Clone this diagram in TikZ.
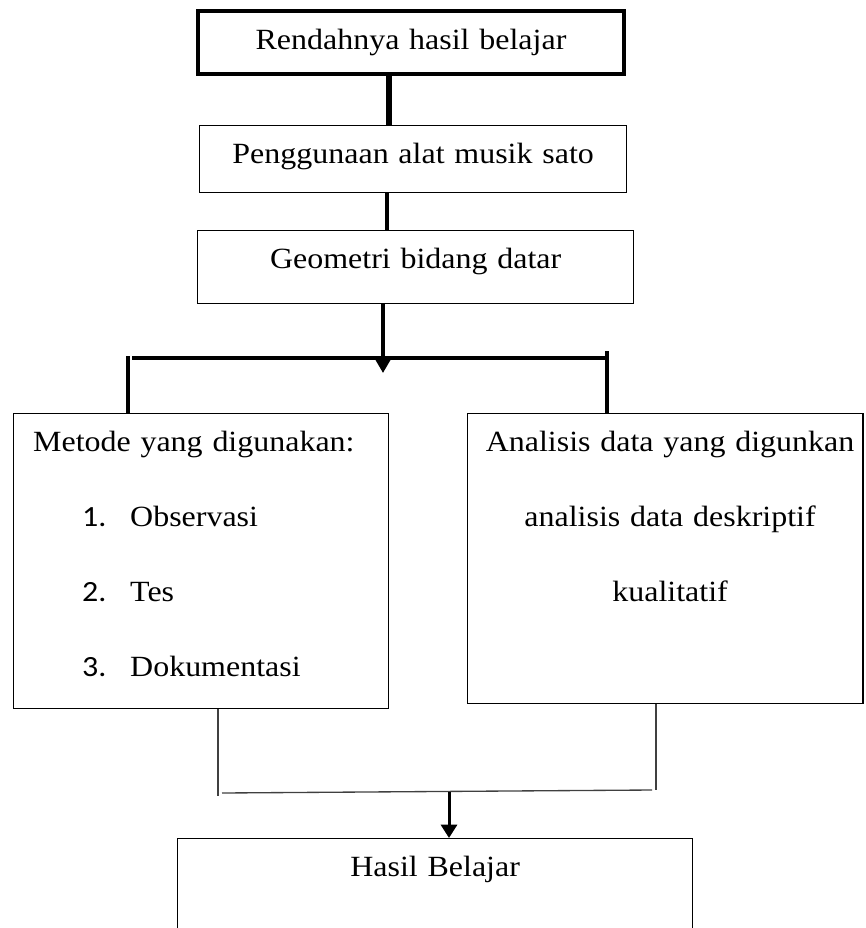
\documentclass[tikz,border=0pt]{standalone}
\usepackage{fontspec}
\setmainfont{Liberation Serif}[FakeStretch=1.09]
\newfontfamily\numfont{Carlito}[FakeStretch=1.09]
\usepackage{tikz}
\usetikzlibrary{arrows.meta}

\begin{document}
\begin{tikzpicture}[
  x=0.75pt, y=-0.75pt,
  font=\fontsize{22}{56.25}\selectfont,
  box/.style={rectangle, draw=black, line width=1pt, fill=white,
              inner sep=0pt, align=center, text height=28.7pt,
              anchor=north west},
  topb/.style={box, line width=3pt},
  link/.style={line width=3pt},
  fork/.style={line width=3pt},
  mergeln/.style={line width=1pt, draw=black!75},
  arr/.style={-{Triangle[length=9.75pt, width=10.5pt]}, line width=3.5pt},
  arrb/.style={-{Triangle[length=10pt, width=12pt]}, line width=2.25pt}
]
\useasboundingbox (0,0) rectangle (865,928);

% --- spine: three stacked boxes (coordinates in px of the page) ---
\node[topb, text width=319.5pt, text depth=18.75pt] at (196,9) (t1)
  {Rendahnya hasil belajar};
\node[box, text width=320.25pt, text depth=21.4pt] at (199,125) (t2)
  {Penggunaan alat musik sato};
\node[box, text width=327pt, text depth=25.9pt] at (197,230) (t3)
  {Geometri bidang datar};

% --- two branches ---
\node[box, align=left, text width=281.25pt, text depth=192.4pt] at (13,413) (m1) {%
  \hspace*{14.6pt}Metode yang digunakan:\\
  \hspace*{51.4pt}\makebox[36pt][l]{\numfont 1.}Observasi\\
  \hspace*{51.4pt}\makebox[36pt][l]{\numfont 2.}Tes\\
  \hspace*{51.4pt}\makebox[36pt][l]{\numfont 3.}Dokumentasi};
\node[box, text width=296.6pt, text depth=188.6pt] at (467,413) (m2) {%
  \hspace*{7pt}Analisis data yang digunkan\\
  \hspace*{7pt}analisis data deskriptif\\
  \hspace*{7pt}kualitatif};

% --- result ---
\node[box, text width=386.25pt, text depth=92pt] at (177,838) (out)
  {Hasil Belajar};

% --- helper points for the fork and the merge ---
\coordinate (tipA) at (383,373);
\coordinate (fL) at (128,358);
\coordinate (fR) at (607,358);
\coordinate (jL) at (218,796);
\coordinate (jR) at (656,790);
\coordinate (jM) at (449,791.5);

% --- spine links ---
\draw[link, line width=5pt] ([xshift=-16.5pt]t1.south) -- ([xshift=-16.5pt]t1.south |- t2.north);
\draw[link] ([xshift=-19.6pt]t2.south) -- ([xshift=-19.6pt]t2.south |- t3.north);
\draw[arr] (t3.south -| tipA) -- (tipA);

% --- fork to the two branches ---
\draw[fork] ([yshift=1.5pt]fL) -- (fL |- m1.north);
\draw[fork] ([xshift=3pt]fL) -- (fR);
\draw[fork] ([yshift=5.25pt]fR) -- (fR |- m2.north);

% --- merge into the result ---
\draw[mergeln] (m1.south -| jL) -- (jL);
\draw[mergeln] (m2.south -| jR) -- (jR);
\draw[mergeln] ([xshift=3pt,yshift=2.25pt]jL) -- ([xshift=-3pt]jR);
\draw[arrb] (jM) -- (jM |- out.north);
\end{tikzpicture}
\end{document}
